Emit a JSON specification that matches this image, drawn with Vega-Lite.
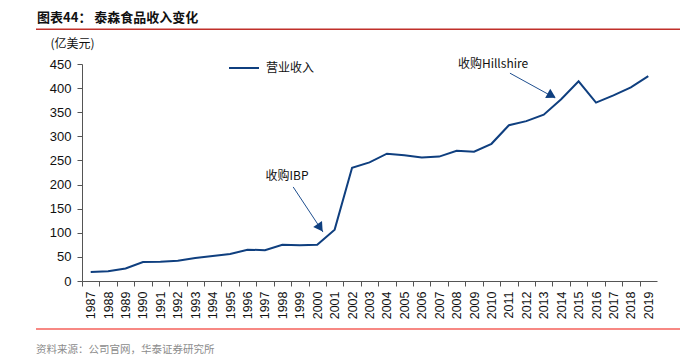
{
  "$schema": "https://vega.github.io/schema/vega-lite/v6.json",
  "width": 575,
  "height": 217,
  "autosize": "none",
  "padding": {"left": 82, "top": 64, "right": 23, "bottom": 75},
  "background": "white",
  "config": {"view": {"stroke": null}, "font": "Liberation Sans", "axis": {"labelOverlap": false, "grid": false}},
  "datasets": {
    "rev": [
      {"year": 1987, "value": 18.7, "series": "营业收入"},
      {"year": 1988, "value": 20, "series": "营业收入"},
      {"year": 1989, "value": 26, "series": "营业收入"},
      {"year": 1990, "value": 39.5, "series": "营业收入"},
      {"year": 1991, "value": 40, "series": "营业收入"},
      {"year": 1992, "value": 42, "series": "营业收入"},
      {"year": 1993, "value": 47.5, "series": "营业收入"},
      {"year": 1994, "value": 52, "series": "营业收入"},
      {"year": 1995, "value": 56, "series": "营业收入"},
      {"year": 1996, "value": 65, "series": "营业收入"},
      {"year": 1997, "value": 64, "series": "营业收入"},
      {"year": 1998, "value": 75, "series": "营业收入"},
      {"year": 1999, "value": 74, "series": "营业收入"},
      {"year": 2000, "value": 75, "series": "营业收入"},
      {"year": 2001, "value": 106.5, "series": "营业收入"},
      {"year": 2002, "value": 235, "series": "营业收入"},
      {"year": 2003, "value": 246, "series": "营业收入"},
      {"year": 2004, "value": 264, "series": "营业收入"},
      {"year": 2005, "value": 261, "series": "营业收入"},
      {"year": 2006, "value": 256, "series": "营业收入"},
      {"year": 2007, "value": 258, "series": "营业收入"},
      {"year": 2008, "value": 270, "series": "营业收入"},
      {"year": 2009, "value": 268, "series": "营业收入"},
      {"year": 2010, "value": 284.5, "series": "营业收入"},
      {"year": 2011, "value": 323, "series": "营业收入"},
      {"year": 2012, "value": 331.5, "series": "营业收入"},
      {"year": 2013, "value": 345, "series": "营业收入"},
      {"year": 2014, "value": 377, "series": "营业收入"},
      {"year": 2015, "value": 414, "series": "营业收入"},
      {"year": 2016, "value": 370, "series": "营业收入"},
      {"year": 2017, "value": 385, "series": "营业收入"},
      {"year": 2018, "value": 401.5, "series": "营业收入"},
      {"year": 2019, "value": 425, "series": "营业收入"}
    ],
    "arrows": [
      {"year": 1998.62, "value": 195, "year2": 2000.33, "value2": 101.5},
      {"year": 2011.06, "value": 431, "year2": 2013.65, "value2": 379.5}
    ],
    "heads": [
      {"year": 2000.12, "value": 113, "angle": 146},
      {"year": 2013.38, "value": 386, "angle": 119}
    ],
    "labels": [
      {"year": 1998.27, "value": 218, "text": "收购IBP"},
      {"year": 2010.09, "value": 450, "text": "收购Hillshire"}
    ],
    "redlines": [
      {"year": 1983.86, "year2": 2020.83, "value": 522, "kind": "top"},
      {"year": 1983.86, "year2": 2020.83, "value": -99.5, "kind": "bottom"}
    ],
    "source": [
      {"year": 1983.86, "value": -143, "text": "资料来源：公司官网，华泰证券研究所"}
    ],
    "heading": [
      {"year": 1983.92, "value": 537, "text": "图表44：    泰森食品收入变化"}
    ]
  },
  "encoding": {
    "x": {
      "field": "year",
      "type": "quantitative",
      "scale": {"domain": [1986.5, 2019.5], "nice": false, "zero": false},
      "axis": {
        "title": null,
        "values": [1987,1988,1989,1990,1991,1992,1993,1994,1995,1996,1997,1998,1999,2000,2001,2002,2003,2004,2005,2006,2007,2008,2009,2010,2011,2012,2013,2014,2015,2016,2017,2018,2019,2020],
        "format": "d",
        "labelExpr": "datum.value > 2019 ? '' : datum.label",
        "tickOffset": -8.71,
        "labelOffset": 8.71,
        "labelAngle": -90,
        "labelAlign": "right",
        "labelBaseline": "middle",
        "labelFontSize": 12.5,
        "labelColor": "#111111",
        "labelPadding": 5,
        "tickSize": 5,
        "tickColor": "#555555",
        "domainColor": "#555555",
        "grid": false,
        "labelOverlap": false,
        "labelBound": false,
        "labelFlush": false
      }
    },
    "y": {
      "field": "value",
      "type": "quantitative",
      "scale": {"domain": [0, 450], "nice": false},
      "axis": {
        "title": "(亿美元)",
        "titleAngle": 0,
        "titleX": -10,
        "titleY": -17,
        "titleAlign": "center",
        "titleBaseline": "alphabetic",
        "titleFont": "Noto Sans CJK SC",
        "titleFontSize": 12,
        "titleFontWeight": "normal",
        "titleColor": "#111111",
        "values": [0, 50, 100, 150, 200, 250, 300, 350, 400, 450],
        "labelFontSize": 13,
        "labelColor": "#111111",
        "labelPadding": 6,
        "tickSize": 5,
        "tickColor": "#555555",
        "domainColor": "#555555",
        "grid": false,
        "labelOverlap": false,
        "labelBound": false,
        "labelFlush": false
      }
    }
  },
  "layer": [
    {
      "data": {"name": "rev"},
      "mark": {"type": "line", "strokeWidth": 2, "clip": false},
      "encoding": {
        "color": {
          "field": "series",
          "type": "nominal",
          "scale": {"range": ["#0f3f7f"]},
          "legend": {
            "title": null,
            "orient": "none",
            "legendX": 146,
            "legendY": -12,
            "symbolType": "stroke",
            "symbolSize": 900,
            "symbolStrokeWidth": 2,
            "labelFont": "Noto Sans CJK SC",
            "labelFontSize": 12,
            "labelColor": "#111111",
            "labelOffset": 6
          }
        }
      }
    },
    {
      "data": {"name": "arrows"},
      "mark": {"type": "rule", "color": "#1f4f8f", "strokeWidth": 1, "clip": false},
      "encoding": {
        "x2": {"field": "year2"},
        "y2": {"field": "value2"}
      }
    },
    {
      "data": {"name": "heads"},
      "mark": {"type": "point", "shape": "triangle", "filled": true, "color": "#0f3f7f", "size": 110, "opacity": 1},
      "encoding": {
        "angle": {"field": "angle", "type": "quantitative", "scale": null}
      }
    },
    {
      "data": {"name": "labels"},
      "mark": {"type": "text", "font": "Noto Sans CJK SC", "fontSize": 12, "color": "#111111", "align": "center", "baseline": "middle", "clip": false},
      "encoding": {
        "text": {"field": "text"}
      }
    },
    {
      "data": {"name": "redlines"},
      "mark": {"type": "rule", "clip": false, "strokeWidth": 1.5},
      "encoding": {
        "x2": {"field": "year2"},
        "color": {"field": "kind", "type": "nominal", "scale": {"domain": ["top", "bottom"], "range": ["#c0302a", "#f4605a"]}, "legend": null}
      }
    },
    {
      "data": {"name": "source"},
      "mark": {"type": "text", "font": "Noto Sans CJK SC", "fontSize": 10.5, "color": "#8c8c8c", "align": "left", "baseline": "middle", "clip": false},
      "encoding": {
        "text": {"field": "text"}
      }
    },
    {
      "data": {"name": "heading"},
      "mark": {"type": "text", "font": "Noto Sans CJK SC", "fontSize": 13, "fontWeight": "bold", "color": "#111111", "align": "left", "baseline": "alphabetic", "clip": false},
      "encoding": {
        "text": {"field": "text"}
      }
    }
  ],
  "resolve": {"scale": {"color": "independent"}}
}
